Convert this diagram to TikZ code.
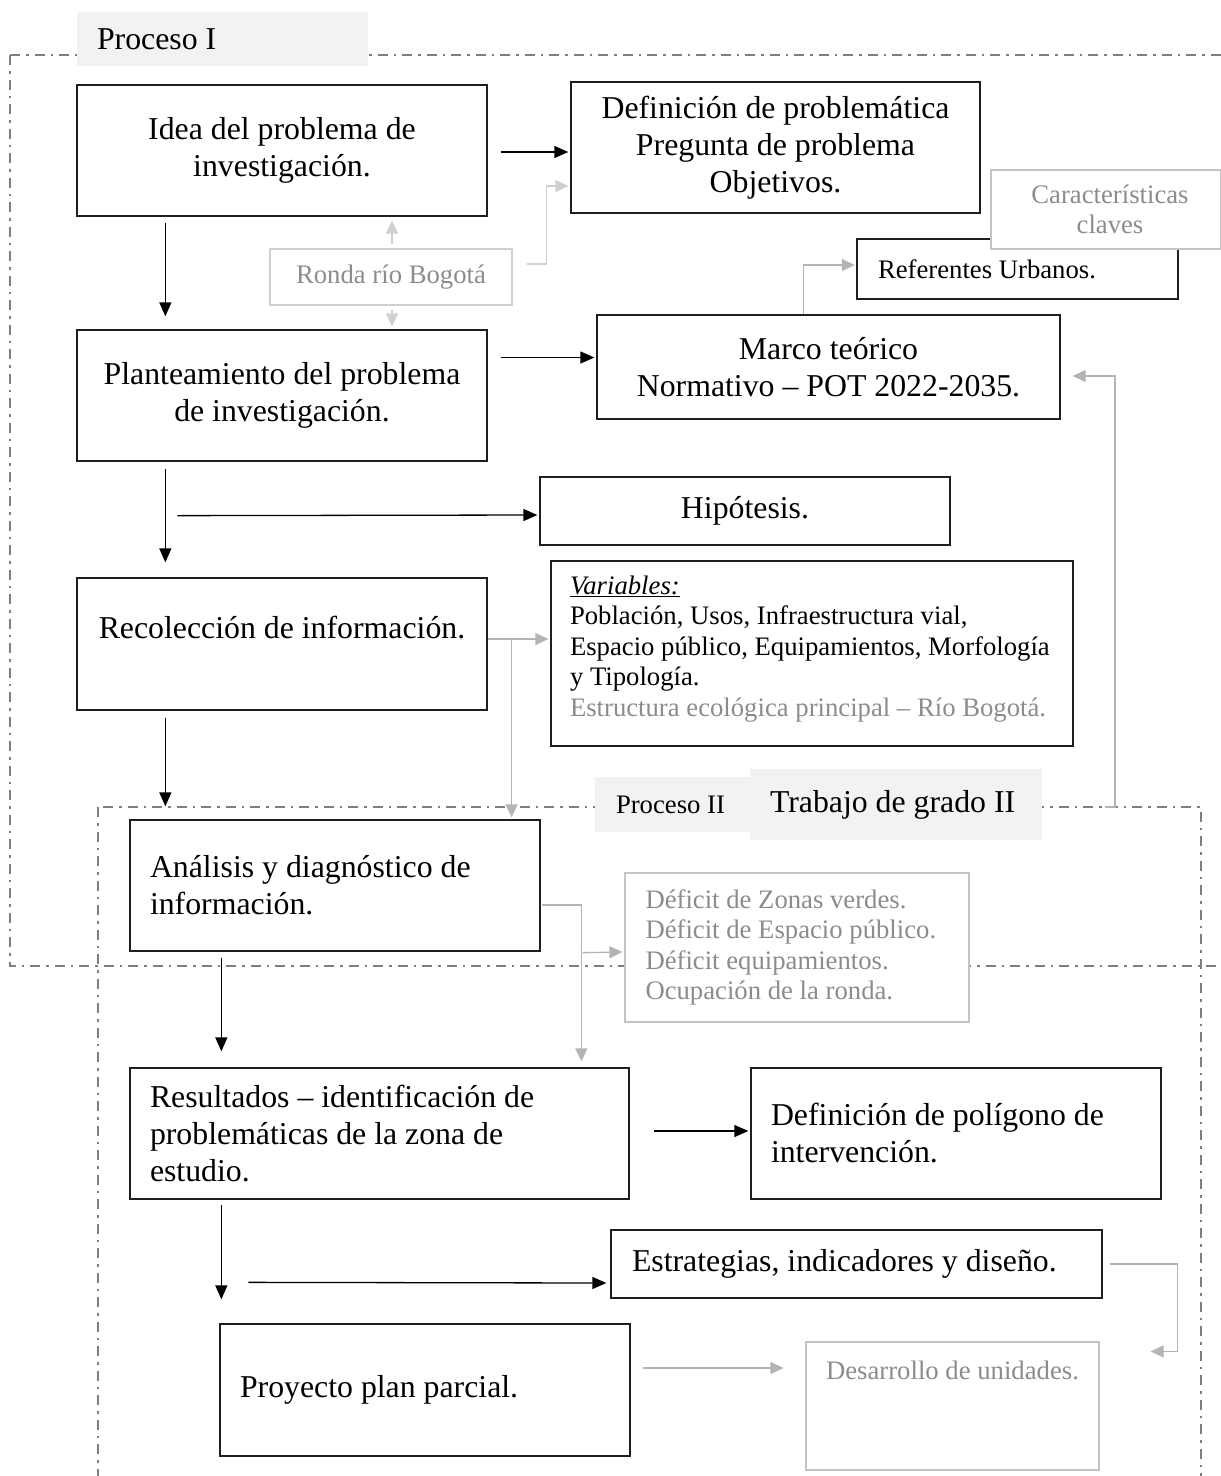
\documentclass[tikz,border=0pt]{standalone}
\usepackage{fontspec}
\setmainfont{Liberation Serif}
\usetikzlibrary{arrows.meta,calc}
\definecolor{framegray}{HTML}{7F7F7F}
\definecolor{labelfill}{HTML}{F2F2F2}
\definecolor{txtgray}{HTML}{8C8C8C}
\definecolor{linegray}{HTML}{B4B4B4}
\definecolor{palegray}{HTML}{D0D0D0}
\definecolor{boxgray}{HTML}{C4C4C4}
\newcommand\bigtxt{\fontsize{31.8pt}{37pt}\selectfont}
\newcommand\smtxt{\fontsize{26.7pt}{30.6pt}\selectfont}

\begin{document}
\begin{tikzpicture}[x=1pt,y=-1pt,
  mainbox/.style={draw=black!88, line width=1.3pt, fill=white, inner sep=0pt, font=\bigtxt, align=center},
  softbox/.style={draw=boxgray, line width=1.2pt, fill=white, inner sep=0pt, font=\smtxt, text=txtgray, align=center},
  tagbox/.style={fill=labelfill, inner sep=0pt, align=flush left},
  procframe/.style={draw=framegray, line width=2.2pt, dash pattern=on 10pt off 6pt on 2.5pt off 6pt},
  blk/.style={draw=black, line width=1.3pt, -{Triangle[length=14pt,width=12pt]}},
  gry/.style={draw=linegray, line width=1.3pt, -{Triangle[length=13pt,width=12pt]}},
  pale/.style={draw=palegray, line width=1.3pt, -{Triangle[length=13pt,width=12pt]}},
]
\useasboundingbox (0,0) rectangle (1221,1476);
\fill[white] (0,0) rectangle (1221,1476);
\clip (0,0) rectangle (1221,1476);

% process frames
\draw[procframe] (10,55) rectangle (1260,966);
\draw[procframe] (98,807) rectangle (1201,1500);
\coordinate (p2top) at (1105,807);

% frame titles
\node[tagbox, minimum width=291pt, minimum height=54pt, text width=251pt, font=\bigtxt] (tag1) at (222.5,39) {Proceso I};
\node[tagbox, minimum width=155pt, minimum height=55pt, text width=113pt, font=\smtxt] (tag2) at (672.5,804.5) {Proceso II};
\node[tagbox, minimum width=292pt, minimum height=71pt, text width=252pt, font=\bigtxt] (tag3) at (896,804.5) {Trabajo de grado II};

% Proceso I
\node[mainbox, minimum width=410pt, minimum height=131pt] (idea) at (282,150.5) {Idea del problema de\\investigación.};
\node[mainbox, minimum width=409pt, minimum height=131pt] (def) at (775.5,147.5) {Definición de problemática\\Pregunta de problema\\Objetivos.};
\node[mainbox, line width=2.4pt, font=\smtxt, minimum width=321pt, minimum height=60pt, text width=279pt, align=flush left] (refe) at (1017.5,269) {Referentes Urbanos.};
\node[softbox, minimum width=230pt, minimum height=79pt, text width=222pt, align=flush center] (carac) at (1106,209.5) {\hspace*{8pt}Características\\\hspace*{8pt}claves};
\node[softbox, draw=palegray, minimum width=242pt, minimum height=56pt] (ronda) at (391,277) {Ronda río Bogotá};
\node[mainbox, minimum width=410pt, minimum height=131pt] (plan) at (282,395.5) {Planteamiento del problema\\de investigación.};
\node[mainbox, minimum width=463pt, minimum height=104pt] (marco) at (828.5,367) {Marco teórico\\Normativo – POT 2022-2035.};
\node[mainbox, minimum width=410pt, minimum height=68pt] (hipo) at (745,511) {Hipótesis.};
\node[mainbox, minimum width=410pt, text height=60.5pt, text depth=71.5pt] (reco) at (282,644) {Recolección de información.};
\node[mainbox, font=\smtxt, minimum width=522pt, minimum height=185pt, text width=484pt, align=flush left] (vars) at (812,653.5)
  {\underline{\textit{Variables:}}\\
   Población, Usos, Infraestructura vial,\\
   Espacio público, Equipamientos, Morfología\\
   y Tipología.\\
   \textcolor{txtgray}{Estructura ecológica principal – Río Bogotá.}\vspace{9pt}};

% Proceso II
\node[mainbox, minimum width=410pt, minimum height=131pt, text width=370pt, align=flush left] (anal) at (335,885.5) {Análisis y diagnóstico de\\información.};
\node[softbox, minimum width=344pt, minimum height=149pt, text width=303pt, align=flush left] (defi) at (797,947.5)
  {Déficit de Zonas verdes.\\Déficit de Espacio público.\\Déficit equipamientos.\\Ocupación de la ronda.};
\node[mainbox, minimum width=499pt, minimum height=131pt, text width=459pt, align=flush left] (resu) at (379.5,1133.5) {Resultados – identificación de\\problemáticas de la zona de\\estudio.};
\node[mainbox, minimum width=410pt, minimum height=131pt, text width=370pt, align=flush left] (poli) at (956,1133.5) {Definición de polígono de\\intervención.};
\node[mainbox, minimum width=491pt, minimum height=68pt, text width=449pt, align=flush left] (estr) at (856.5,1264) {Estrategias, indicadores y diseño.};
\node[mainbox, minimum width=410pt, minimum height=132pt, text width=370pt, align=flush left] (proy) at (425,1390) {Proyecto plan parcial.};
\node[softbox, minimum width=293pt, text height=37pt, text depth=91pt] (desa) at (952.5,1406) {Desarrollo de unidades.};

% main flow (black)
\draw[blk] ($(idea.east)+(13,1.5)$) -- ($(def.west |- idea.east)+(-2,1.5)$);
\draw[blk] ($(idea.south west)+(89,6)$) -- ($(plan.north west)+(89,-13)$);
\draw[blk] ($(plan.east)+(13,-38)$) -- ($(marco.west)+(-2,-9.5)$);
\draw[blk] ($(plan.south west)+(89,7)$) -- ($(reco.north west)+(89,-15)$);
\draw[blk] ($(plan.south west)+(101,54)$) -- ($(hipo.west)+(-2,4)$);
\draw[blk] ($(reco.south west)+(89,7)$) -- ($(anal.north west)+(36,-13)$);
\draw[blk] ($(anal.south west)+(92,6)$) -- ($(resu.north west)+(92,-16)$);
\draw[blk] ($(resu.east)+(24,-2.5)$) -- ($(poli.west)+(-2,-2.5)$);
\draw[blk] ($(resu.south west)+(92,5)$) -- ($(proy.north west)+(2,-24)$);
\draw[blk] ($(proy.north west)+(29,-41)$) -- ($(estr.west)+(-4,19)$);

% secondary links (grey)
\draw[pale] ($(ronda.north)+(1,-4)$) -- ($(idea.south -| ronda.north)+(1,4)$);
\draw[pale] ($(ronda.south)+(1,4)$) -- ($(plan.north -| ronda.south)+(1,-3)$);
\draw[pale] ($(ronda.east)+(14,-13)$) -- ++(20,0) |- ($(def.west)+(-2,38.5)$);
\draw[gry] ($(marco.north west)+(207,0)$) |- ($(refe.west)+(-1,-4)$);
\draw[gry] (p2top) -- ++(10,0) |- ($(marco.east)+(12,9)$);
\draw[gry] ($(reco.east)+(0,-5)$) -- ($(vars.west |- reco.east)+(-2,-5)$);
\draw[gry] ($(reco.east)+(24,-5)$) -- ($(anal.north east)+(-29,-2)$);
\draw[gry] ($(anal.east)+(1,19.5)$) -| ($(resu.north west)+(452,-6)$);
\draw[gry] ($(anal.south east)+(42,1)$) -- ($(defi.west)+(-2,4.5)$);
\draw[gry] ($(estr.east)+(7,0)$) -- ++(68,0) |- ($(desa.north east)+(51,10)$);
\draw[gry] ($(proy.east)+(12,-22)$) -- ($(desa.west)+(-22,-38)$);
\end{tikzpicture}
\end{document}
